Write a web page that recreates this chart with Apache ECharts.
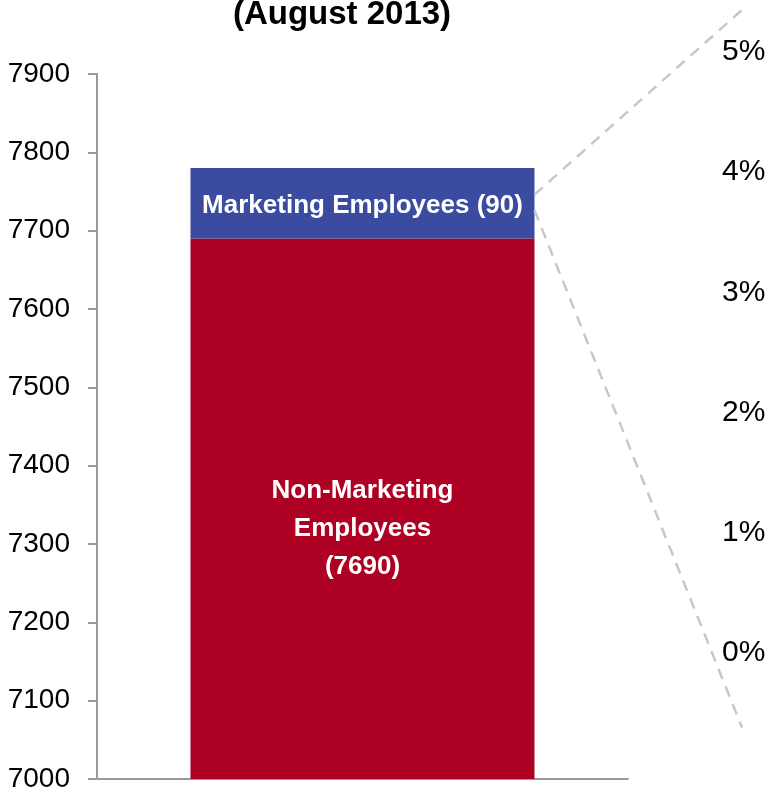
<!DOCTYPE html>
<html style="height: 100%">
<head>
    <meta charset="utf-8">
</head>
<body style="height: 100%; margin: 0; background: #fff">
<div id="container" style="width: 767px; height: 792px"></div>
<script type="text/javascript" src="https://cdn.jsdelivr.net/npm/echarts@6/dist/echarts.min.js"></script>
<script type="text/javascript">
    var categories = ['August 2013'];
    var nonMarketing = [7690];
    var marketing = [90];
    var pctTicks = [0, 1, 2, 3, 4, 5];
    // where the dashed connector lines start (on the bar) and end (on the % scale)
    var linkFrom = [7746, 7726];
    var linkTo = [5.35, -0.62];

    var FONT = "'Liberation Sans Narrow', 'Arial Narrow', 'Liberation Sans', Arial, sans-serif";
    var dom = document.getElementById("container");
    var myChart = echarts.init(dom);
    var option;

    option = {
        animation: false,
        title: {
            text: '(August 2013)',
            left: 337,
            textAlign: 'center',
            top: -7,
            textStyle: {fontFamily: FONT, fontWeight: 'bold', fontSize: 33, color: '#000'}
        },
        grid: [
            {left: 97, right: 139, top: 74, bottom: 13, outerBoundsMode: 'none'},
            {left: 700, width: 42, top: 52, height: 601, outerBoundsMode: 'none'}
        ],
        xAxis: [
            {
                type: 'category',
                data: categories,
                axisLine: {lineStyle: {color: '#999', width: 2}},
                axisTick: {show: false},
                axisLabel: {show: false}
            },
            {type: 'value', gridIndex: 1, min: 0, max: 1, show: false}
        ],
        yAxis: [
            {
                type: 'value',
                min: 7000,
                max: 7900,
                interval: 100,
                axisLine: {show: true, lineStyle: {color: '#999', width: 2}},
                axisTick: {show: true, length: 9, lineStyle: {color: '#999', width: 2}},
                splitLine: {show: false},
                axisLabel: {
                    margin: 27, fontFamily: FONT, fontSize: 28, color: '#000',
                    formatter: function (v) { return String(v); }
                }
            },
            {
                type: 'value',
                gridIndex: 1,
                position: 'right',
                min: pctTicks[0],
                max: pctTicks[pctTicks.length - 1],
                interval: 1,
                axisLine: {show: false},
                axisTick: {show: false},
                splitLine: {show: false},
                axisLabel: {
                    margin: -20,
                    fontFamily: FONT, fontSize: 30, color: '#000',
                    formatter: '{value}%'
                }
            }
        ],
        series: [
            {
                name: 'Non-Marketing Employees',
                type: 'bar',
                stack: 'total',
                barWidth: 344,
                data: nonMarketing,
                itemStyle: {color: '#AD0023'},
                label: {
                    show: true,
                    position: 'inside',
                    offset: [0, 20],
                    formatter: function (p) { return 'Non-Marketing\nEmployees\n(' + p.value + ')'; },
                    fontFamily: FONT, fontWeight: 'bold', fontSize: 26, lineHeight: 38, color: '#fff'
                }
            },
            {
                name: 'Marketing Employees',
                type: 'bar',
                stack: 'total',
                barWidth: 344,
                data: marketing,
                itemStyle: {color: '#3A4BA0'},
                label: {
                    show: true,
                    position: 'inside',
                    offset: [0, 3],
                    formatter: function (p) { return 'Marketing Employees (' + p.value + ')'; },
                    fontFamily: FONT, fontWeight: 'bold', fontSize: 26, color: '#fff'
                }
            }
        ]
    };

    myChart.setOption(option);

    // dashed connectors from the bar edge to the percent scale
    var cx = myChart.convertToPixel({xAxisIndex: 0}, categories[0]) + 344 / 2;
    var ex = myChart.convertToPixel({xAxisIndex: 1}, 1);
    var lines = [];
    for (var i = 0; i < linkFrom.length; i++) {
        lines.push({
            type: 'line',
            z: 10,
            shape: {
                x1: cx,
                y1: myChart.convertToPixel({yAxisIndex: 0}, linkFrom[i]),
                x2: ex,
                y2: myChart.convertToPixel({yAxisIndex: 1}, linkTo[i])
            },
            style: {stroke: '#c8c8c8', lineWidth: 2.5, lineDash: [11, 8]}
        });
    }
    myChart.setOption({graphic: lines});
</script>
</body>
</html>
